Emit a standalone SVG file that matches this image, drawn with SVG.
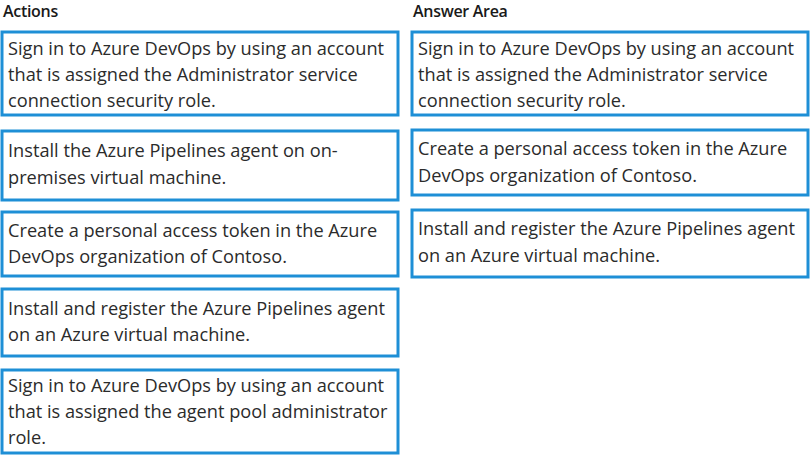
<svg xmlns="http://www.w3.org/2000/svg" width="812" height="456" viewBox="0 0 812 456">
<style>
  .box { fill: #ffffff; stroke: #1e8fd6; stroke-width: 3; }
  .t { font-family: "Open Sans", "Noto Sans", "Liberation Sans", sans-serif; font-size: 18.2px; fill: #2b2b2b; }
  .h { font-family: "Open Sans", "Noto Sans", "Liberation Sans", sans-serif; font-size: 16px; font-weight: 600; fill: #1a1a1a; letter-spacing: -0.3px; }
</style>
<rect x="0" y="0" width="812" height="456" fill="#ffffff"/>
<text class="h" x="3" y="17">Actions</text>
<text class="h" x="413" y="17">Answer Area</text>

<g id="action1">
  <rect class="box" x="2" y="32" width="396" height="83"/>
  <text class="t" x="8" y="55">Sign in to Azure DevOps by using an account</text>
  <text class="t" x="8" y="81">that is assigned the Administrator service</text>
  <text class="t" x="8" y="107">connection security role.</text>
</g>
<g id="action2">
  <rect class="box" x="2" y="131" width="396" height="69"/>
  <text class="t" x="8" y="157">Install the Azure Pipelines agent on on-</text>
  <text class="t" x="8" y="184">premises virtual machine.</text>
</g>
<g id="action3">
  <rect class="box" x="2" y="212" width="396" height="64"/>
  <text class="t" x="8" y="237">Create a personal access token in the Azure</text>
  <text class="t" x="8" y="263">DevOps organization of Contoso.</text>
</g>
<g id="action4">
  <rect class="box" x="2" y="289" width="396" height="67"/>
  <text class="t" x="8" y="315">Install and register the Azure Pipelines agent</text>
  <text class="t" x="8" y="341">on an Azure virtual machine.</text>
</g>
<g id="action5">
  <rect class="box" x="2" y="370" width="396" height="83"/>
  <text class="t" x="8" y="392">Sign in to Azure DevOps by using an account</text>
  <text class="t" x="8" y="418">that is assigned the agent pool administrator</text>
  <text class="t" x="8" y="444">role.</text>
</g>

<g id="answer1">
  <rect class="box" x="412" y="32" width="396" height="83"/>
  <text class="t" x="418" y="55">Sign in to Azure DevOps by using an account</text>
  <text class="t" x="418" y="81">that is assigned the Administrator service</text>
  <text class="t" x="418" y="107">connection security role.</text>
</g>
<g id="answer2">
  <rect class="box" x="412" y="130" width="396" height="65"/>
  <text class="t" x="418" y="155">Create a personal access token in the Azure</text>
  <text class="t" x="418" y="182">DevOps organization of Contoso.</text>
</g>
<g id="answer3">
  <rect class="box" x="412" y="210" width="396" height="67"/>
  <text class="t" x="418" y="235">Install and register the Azure Pipelines agent</text>
  <text class="t" x="418" y="262">on an Azure virtual machine.</text>
</g>
<g id="connectors"></g>
</svg>
